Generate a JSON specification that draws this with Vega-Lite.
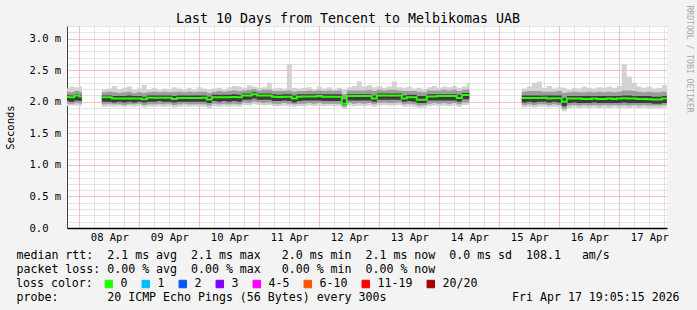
{
"$schema": "https://vega.github.io/schema/vega-lite/v6.json",
"width": 600, "height": 202,
"autosize": {"type": "none"},
"padding": {"left": 67, "top": 26, "right": 30, "bottom": 82},
"background": "#f3f3f3",
"title": {"text": "Last 10 Days from Tencent to Melbikomas UAB", "font": "DejaVu Sans Mono", "fontSize": 13.3, "fontWeight": "normal", "color": "black", "anchor": "middle", "frame": "group", "dx": -19, "offset": -31, "baseline": "alphabetic"},
"config": {"view": {"fill": "white", "stroke": null}, "font": "DejaVu Sans Mono"},
"datasets": {"d": [
{"t":"2026-04-07T18:00Z","s":1,"m":2.08,"a":1.93,"b":1.97,"c":2.01,"d":2.11,"e":2.16,"f":2.21},
{"t":"2026-04-07T20:00Z","s":1,"m":2.07,"a":1.94,"b":1.97,"c":2.0,"d":2.1,"e":2.15,"f":2.24},
{"t":"2026-04-07T22:00Z","s":1,"m":2.1,"a":1.94,"b":1.98,"c":2.02,"d":2.12,"e":2.17,"f":2.23},
{"t":"2026-04-08T00:00Z","s":1,"m":2.085,"a":1.93,"b":1.97,"c":2.01,"d":2.11,"e":2.16,"f":2.25},
{"t":"2026-04-08T01:00Z","s":1,"m":2.085,"a":1.93,"b":1.97,"c":2.01,"d":2.11,"e":2.16,"f":2.25},
{"t":"2026-04-08T09:00Z","s":2,"m":2.07,"a":1.92,"b":1.96,"c":2.0,"d":2.1,"e":2.15,"f":2.2},
{"t":"2026-04-08T11:00Z","s":2,"m":2.07,"a":1.93,"b":1.97,"c":2.0,"d":2.1,"e":2.16,"f":2.21},
{"t":"2026-04-08T13:00Z","s":2,"m":2.05,"a":1.92,"b":1.96,"c":1.99,"d":2.09,"e":2.15,"f":2.25},
{"t":"2026-04-08T15:00Z","s":2,"m":2.05,"a":1.93,"b":1.96,"c":2.0,"d":2.09,"e":2.14,"f":2.2},
{"t":"2026-04-08T17:00Z","s":2,"m":2.05,"a":1.92,"b":1.95,"c":1.99,"d":2.09,"e":2.15,"f":2.22},
{"t":"2026-04-08T19:00Z","s":2,"m":2.05,"a":1.93,"b":1.96,"c":2.0,"d":2.1,"e":2.16,"f":2.24},
{"t":"2026-04-08T21:00Z","s":2,"m":2.05,"a":1.92,"b":1.96,"c":1.99,"d":2.09,"e":2.14,"f":2.19},
{"t":"2026-04-08T23:00Z","s":2,"m":2.05,"a":1.93,"b":1.97,"c":2.0,"d":2.09,"e":2.15,"f":2.21},
{"t":"2026-04-09T01:00Z","s":2,"m":2.04,"a":1.91,"b":1.95,"c":1.99,"d":2.08,"e":2.14,"f":2.27},
{"t":"2026-04-09T03:00Z","s":2,"m":2.065,"a":1.93,"b":1.96,"c":2.0,"d":2.1,"e":2.15,"f":2.2},
{"t":"2026-04-09T05:00Z","s":2,"m":2.065,"a":1.92,"b":1.96,"c":2.0,"d":2.1,"e":2.16,"f":2.22},
{"t":"2026-04-09T07:00Z","s":2,"m":2.065,"a":1.93,"b":1.97,"c":2.01,"d":2.1,"e":2.15,"f":2.19},
{"t":"2026-04-09T09:00Z","s":2,"m":2.065,"a":1.92,"b":1.96,"c":2.0,"d":2.1,"e":2.16,"f":2.21},
{"t":"2026-04-09T11:00Z","s":2,"m":2.065,"a":1.93,"b":1.97,"c":2.0,"d":2.1,"e":2.15,"f":2.2},
{"t":"2026-04-09T13:00Z","s":2,"m":2.045,"a":1.91,"b":1.95,"c":1.99,"d":2.09,"e":2.15,"f":2.23},
{"t":"2026-04-09T15:00Z","s":2,"m":2.06,"a":1.92,"b":1.96,"c":2.0,"d":2.1,"e":2.16,"f":2.21},
{"t":"2026-04-09T17:00Z","s":2,"m":2.06,"a":1.93,"b":1.97,"c":2.0,"d":2.1,"e":2.15,"f":2.2},
{"t":"2026-04-09T19:00Z","s":2,"m":2.06,"a":1.92,"b":1.96,"c":2.0,"d":2.1,"e":2.16,"f":2.22},
{"t":"2026-04-09T21:00Z","s":2,"m":2.06,"a":1.93,"b":1.96,"c":2.0,"d":2.1,"e":2.15,"f":2.19},
{"t":"2026-04-09T23:00Z","s":2,"m":2.06,"a":1.92,"b":1.96,"c":2.0,"d":2.1,"e":2.16,"f":2.23},
{"t":"2026-04-10T01:00Z","s":2,"m":2.065,"a":1.92,"b":1.96,"c":2.0,"d":2.1,"e":2.16,"f":2.21},
{"t":"2026-04-10T03:00Z","s":2,"m":2.035,"a":1.9,"b":1.94,"c":1.98,"d":2.08,"e":2.14,"f":2.2},
{"t":"2026-04-10T05:00Z","s":2,"m":2.07,"a":1.93,"b":1.97,"c":2.01,"d":2.11,"e":2.16,"f":2.21},
{"t":"2026-04-10T07:00Z","s":2,"m":2.07,"a":1.92,"b":1.96,"c":2.0,"d":2.11,"e":2.17,"f":2.22},
{"t":"2026-04-10T09:00Z","s":2,"m":2.07,"a":1.93,"b":1.97,"c":2.01,"d":2.11,"e":2.16,"f":2.2},
{"t":"2026-04-10T11:00Z","s":2,"m":2.07,"a":1.92,"b":1.96,"c":2.0,"d":2.11,"e":2.17,"f":2.23},
{"t":"2026-04-10T13:00Z","s":2,"m":2.075,"a":1.93,"b":1.97,"c":2.01,"d":2.12,"e":2.18,"f":2.25},
{"t":"2026-04-10T15:00Z","s":2,"m":2.07,"a":1.92,"b":1.96,"c":2.0,"d":2.11,"e":2.17,"f":2.24},
{"t":"2026-04-10T17:00Z","s":2,"m":2.1,"a":1.95,"b":1.99,"c":2.03,"d":2.13,"e":2.18,"f":2.22},
{"t":"2026-04-10T19:00Z","s":2,"m":2.1,"a":1.94,"b":1.98,"c":2.03,"d":2.13,"e":2.19,"f":2.26},
{"t":"2026-04-10T21:00Z","s":2,"m":2.12,"a":1.96,"b":2.0,"c":2.05,"d":2.15,"e":2.2,"f":2.24},
{"t":"2026-04-10T23:00Z","s":2,"m":2.1,"a":1.95,"b":1.99,"c":2.03,"d":2.13,"e":2.18,"f":2.22},
{"t":"2026-04-11T01:00Z","s":2,"m":2.1,"a":1.94,"b":1.98,"c":2.03,"d":2.13,"e":2.19,"f":2.23},
{"t":"2026-04-11T03:00Z","s":2,"m":2.1,"a":1.95,"b":1.99,"c":2.03,"d":2.13,"e":2.19,"f":2.3},
{"t":"2026-04-11T05:00Z","s":2,"m":2.08,"a":1.93,"b":1.97,"c":2.01,"d":2.12,"e":2.17,"f":2.21},
{"t":"2026-04-11T07:00Z","s":2,"m":2.075,"a":1.93,"b":1.97,"c":2.01,"d":2.11,"e":2.17,"f":2.22},
{"t":"2026-04-11T09:00Z","s":2,"m":2.08,"a":1.94,"b":1.98,"c":2.02,"d":2.12,"e":2.17,"f":2.21},
{"t":"2026-04-11T11:00Z","s":2,"m":2.08,"a":1.93,"b":1.97,"c":2.01,"d":2.12,"e":2.18,"f":2.6},
{"t":"2026-04-11T13:00Z","s":2,"m":2.05,"a":1.92,"b":1.96,"c":1.99,"d":2.1,"e":2.16,"f":2.22},
{"t":"2026-04-11T15:00Z","s":2,"m":2.08,"a":1.93,"b":1.97,"c":2.01,"d":2.12,"e":2.17,"f":2.21},
{"t":"2026-04-11T17:00Z","s":2,"m":2.085,"a":1.93,"b":1.97,"c":2.02,"d":2.12,"e":2.17,"f":2.22},
{"t":"2026-04-11T19:00Z","s":2,"m":2.085,"a":1.94,"b":1.98,"c":2.02,"d":2.12,"e":2.18,"f":2.23},
{"t":"2026-04-11T21:00Z","s":2,"m":2.085,"a":1.93,"b":1.97,"c":2.02,"d":2.12,"e":2.17,"f":2.2},
{"t":"2026-04-11T23:00Z","s":2,"m":2.09,"a":1.94,"b":1.98,"c":2.02,"d":2.12,"e":2.18,"f":2.24},
{"t":"2026-04-12T01:00Z","s":2,"m":2.08,"a":1.93,"b":1.97,"c":2.01,"d":2.12,"e":2.17,"f":2.21},
{"t":"2026-04-12T03:00Z","s":2,"m":2.08,"a":1.94,"b":1.97,"c":2.01,"d":2.12,"e":2.18,"f":2.23},
{"t":"2026-04-12T05:00Z","s":2,"m":2.08,"a":1.93,"b":1.97,"c":2.01,"d":2.12,"e":2.17,"f":2.2},
{"t":"2026-04-12T07:00Z","s":2,"m":2.08,"a":1.93,"b":1.97,"c":2.01,"d":2.12,"e":2.18,"f":2.22},
{"t":"2026-04-12T09:00Z","s":2,"m":1.97,"a":1.89,"b":1.92,"c":1.95,"d":2.04,"e":2.12,"f":2.2},
{"t":"2026-04-12T11:00Z","s":2,"m":2.09,"a":1.94,"b":1.98,"c":2.02,"d":2.12,"e":2.18,"f":2.23},
{"t":"2026-04-12T13:00Z","s":2,"m":2.09,"a":1.93,"b":1.97,"c":2.02,"d":2.12,"e":2.18,"f":2.25},
{"t":"2026-04-12T15:00Z","s":2,"m":2.09,"a":1.94,"b":1.98,"c":2.02,"d":2.12,"e":2.18,"f":2.32},
{"t":"2026-04-12T17:00Z","s":2,"m":2.09,"a":1.93,"b":1.97,"c":2.02,"d":2.12,"e":2.18,"f":2.24},
{"t":"2026-04-12T19:00Z","s":2,"m":2.09,"a":1.94,"b":1.98,"c":2.02,"d":2.12,"e":2.19,"f":2.26},
{"t":"2026-04-12T21:00Z","s":2,"m":2.05,"a":1.92,"b":1.96,"c":2.0,"d":2.1,"e":2.17,"f":2.23},
{"t":"2026-04-12T23:00Z","s":2,"m":2.1,"a":1.94,"b":1.98,"c":2.03,"d":2.13,"e":2.19,"f":2.25},
{"t":"2026-04-13T01:00Z","s":2,"m":2.1,"a":1.95,"b":1.99,"c":2.03,"d":2.13,"e":2.18,"f":2.22},
{"t":"2026-04-13T03:00Z","s":2,"m":2.1,"a":1.94,"b":1.98,"c":2.03,"d":2.13,"e":2.19,"f":2.24},
{"t":"2026-04-13T05:00Z","s":2,"m":2.1,"a":1.94,"b":1.98,"c":2.03,"d":2.13,"e":2.19,"f":2.32},
{"t":"2026-04-13T07:00Z","s":2,"m":2.1,"a":1.95,"b":1.99,"c":2.03,"d":2.13,"e":2.18,"f":2.23},
{"t":"2026-04-13T09:00Z","s":2,"m":2.05,"a":1.92,"b":1.96,"c":2.0,"d":2.1,"e":2.17,"f":2.22},
{"t":"2026-04-13T11:00Z","s":2,"m":2.07,"a":1.93,"b":1.97,"c":2.01,"d":2.11,"e":2.17,"f":2.24},
{"t":"2026-04-13T13:00Z","s":2,"m":2.07,"a":1.92,"b":1.96,"c":2.0,"d":2.11,"e":2.17,"f":2.21},
{"t":"2026-04-13T15:00Z","s":2,"m":2.03,"a":1.9,"b":1.94,"c":1.98,"d":2.09,"e":2.16,"f":2.22},
{"t":"2026-04-13T17:00Z","s":2,"m":2.03,"a":1.91,"b":1.95,"c":1.98,"d":2.09,"e":2.15,"f":2.2},
{"t":"2026-04-13T19:00Z","s":2,"m":2.085,"a":1.93,"b":1.97,"c":2.02,"d":2.12,"e":2.18,"f":2.23},
{"t":"2026-04-13T21:00Z","s":2,"m":2.085,"a":1.94,"b":1.98,"c":2.02,"d":2.12,"e":2.18,"f":2.25},
{"t":"2026-04-13T23:00Z","s":2,"m":2.09,"a":1.93,"b":1.97,"c":2.02,"d":2.12,"e":2.18,"f":2.22},
{"t":"2026-04-14T01:00Z","s":2,"m":2.09,"a":1.94,"b":1.98,"c":2.02,"d":2.12,"e":2.19,"f":2.24},
{"t":"2026-04-14T03:00Z","s":2,"m":2.09,"a":1.93,"b":1.97,"c":2.02,"d":2.12,"e":2.18,"f":2.23},
{"t":"2026-04-14T05:00Z","s":2,"m":2.09,"a":1.94,"b":1.98,"c":2.02,"d":2.12,"e":2.19,"f":2.25},
{"t":"2026-04-14T07:00Z","s":2,"m":2.06,"a":1.92,"b":1.96,"c":2.0,"d":2.11,"e":2.17,"f":2.22},
{"t":"2026-04-14T09:00Z","s":2,"m":2.105,"a":1.95,"b":1.99,"c":2.04,"d":2.14,"e":2.19,"f":2.24},
{"t":"2026-04-14T11:00Z","s":2,"m":2.105,"a":1.95,"b":1.99,"c":2.04,"d":2.14,"e":2.2,"f":2.3},
{"t":"2026-04-14T12:00Z","s":2,"m":2.105,"a":1.95,"b":1.99,"c":2.04,"d":2.14,"e":2.2,"f":2.3},
{"t":"2026-04-15T09:00Z","s":3,"m":2.06,"a":1.91,"b":1.95,"c":1.99,"d":2.1,"e":2.16,"f":2.21},
{"t":"2026-04-15T11:00Z","s":3,"m":2.06,"a":1.92,"b":1.96,"c":2.0,"d":2.1,"e":2.17,"f":2.24},
{"t":"2026-04-15T13:00Z","s":3,"m":2.06,"a":1.91,"b":1.95,"c":1.99,"d":2.1,"e":2.17,"f":2.3},
{"t":"2026-04-15T15:00Z","s":3,"m":2.06,"a":1.92,"b":1.96,"c":2.0,"d":2.1,"e":2.17,"f":2.32},
{"t":"2026-04-15T17:00Z","s":3,"m":2.065,"a":1.92,"b":1.96,"c":2.0,"d":2.1,"e":2.16,"f":2.22},
{"t":"2026-04-15T19:00Z","s":3,"m":2.05,"a":1.91,"b":1.95,"c":1.99,"d":2.1,"e":2.16,"f":2.25},
{"t":"2026-04-15T21:00Z","s":3,"m":2.055,"a":1.92,"b":1.96,"c":2.0,"d":2.1,"e":2.16,"f":2.21},
{"t":"2026-04-15T23:00Z","s":3,"m":2.055,"a":1.91,"b":1.95,"c":1.99,"d":2.1,"e":2.17,"f":2.23},
{"t":"2026-04-16T01:00Z","s":3,"m":2.0,"a":1.85,"b":1.89,"c":1.93,"d":2.06,"e":2.14,"f":2.22},
{"t":"2026-04-16T03:00Z","s":3,"m":2.05,"a":1.9,"b":1.94,"c":1.98,"d":2.09,"e":2.15,"f":2.2},
{"t":"2026-04-16T05:00Z","s":3,"m":2.05,"a":1.91,"b":1.95,"c":1.99,"d":2.09,"e":2.16,"f":2.22},
{"t":"2026-04-16T07:00Z","s":3,"m":2.05,"a":1.9,"b":1.94,"c":1.98,"d":2.09,"e":2.15,"f":2.21},
{"t":"2026-04-16T09:00Z","s":3,"m":2.045,"a":1.91,"b":1.95,"c":1.98,"d":2.09,"e":2.15,"f":2.24},
{"t":"2026-04-16T11:00Z","s":3,"m":2.045,"a":1.9,"b":1.94,"c":1.98,"d":2.09,"e":2.16,"f":2.22},
{"t":"2026-04-16T13:00Z","s":3,"m":2.05,"a":1.91,"b":1.95,"c":1.99,"d":2.09,"e":2.15,"f":2.21},
{"t":"2026-04-16T15:00Z","s":3,"m":2.045,"a":1.9,"b":1.94,"c":1.98,"d":2.09,"e":2.16,"f":2.23},
{"t":"2026-04-16T17:00Z","s":3,"m":2.045,"a":1.91,"b":1.95,"c":1.98,"d":2.09,"e":2.15,"f":2.22},
{"t":"2026-04-16T19:00Z","s":3,"m":2.05,"a":1.9,"b":1.94,"c":1.98,"d":2.09,"e":2.16,"f":2.24},
{"t":"2026-04-16T21:00Z","s":3,"m":2.045,"a":1.91,"b":1.95,"c":1.98,"d":2.09,"e":2.15,"f":2.22},
{"t":"2026-04-16T23:00Z","s":3,"m":2.05,"a":1.9,"b":1.94,"c":1.98,"d":2.09,"e":2.16,"f":2.25},
{"t":"2026-04-17T01:00Z","s":3,"m":2.055,"a":1.91,"b":1.95,"c":1.99,"d":2.1,"e":2.18,"f":2.6},
{"t":"2026-04-17T03:00Z","s":3,"m":2.05,"a":1.9,"b":1.94,"c":1.98,"d":2.1,"e":2.18,"f":2.4},
{"t":"2026-04-17T05:00Z","s":3,"m":2.05,"a":1.91,"b":1.95,"c":1.98,"d":2.09,"e":2.17,"f":2.3},
{"t":"2026-04-17T07:00Z","s":3,"m":2.045,"a":1.9,"b":1.94,"c":1.98,"d":2.09,"e":2.16,"f":2.24},
{"t":"2026-04-17T09:00Z","s":3,"m":2.045,"a":1.91,"b":1.95,"c":1.98,"d":2.09,"e":2.15,"f":2.22},
{"t":"2026-04-17T11:00Z","s":3,"m":2.04,"a":1.9,"b":1.94,"c":1.98,"d":2.09,"e":2.16,"f":2.24},
{"t":"2026-04-17T13:00Z","s":3,"m":2.035,"a":1.9,"b":1.94,"c":1.97,"d":2.08,"e":2.15,"f":2.21},
{"t":"2026-04-17T15:00Z","s":3,"m":2.035,"a":1.9,"b":1.94,"c":1.97,"d":2.08,"e":2.15,"f":2.22},
{"t":"2026-04-17T17:00Z","s":3,"m":2.05,"a":1.91,"b":1.95,"c":1.98,"d":2.09,"e":2.16,"f":2.26},
{"t":"2026-04-17T19:00Z","s":3,"m":2.05,"a":1.91,"b":1.95,"c":1.98,"d":2.09,"e":2.16,"f":2.26}
]},
"data": {"name": "d"},
"resolve": {"axis": {"x": "independent", "y": "independent"}},
"layer": [
 {"mark": {"type": "area", "interpolate": "step-after", "color": "#d2d2d2", "clip": true},
  "encoding": {
   "x": {"field": "t", "type": "temporal",
    "scale": {"type": "utc", "nice": false, "domain": [1775588700000, 1776452700000]},
    "axis": {"orient": "bottom",
      "values": [1775606400000, 1775692800000, 1775779200000, 1775865600000, 1775952000000, 1776038400000, 1776124800000, 1776211200000, 1776297600000, 1776384000000],
      "grid": true, "gridColor": "#f08080", "gridDash": [1, 1], "ticks": false, "domainColor": "black", "domainWidth": 1.5,
      "labelExpr": "utcFormat(datum.value, '%d %b')", "labelOffset": 30,
      "labelFont": "DejaVu Sans Mono", "labelFontSize": 10.5, "labelColor": "black", "labelPadding": 4,
      "labelFlush": false, "labelOverlap": false,
      "title": ["median\u00a0rtt:\u00a0\u00a02.1\u00a0ms\u00a0avg\u00a0\u00a02.1\u00a0ms\u00a0max\u00a0\u00a0\u00a02.0\u00a0ms\u00a0min\u00a0\u00a02.1\u00a0ms\u00a0now\u00a0\u00a00.0\u00a0ms\u00a0sd\u00a0\u00a0108.1\u00a0\u00a0\u00a0am/s", "packet\u00a0loss:\u00a00.00\u00a0%\u00a0avg\u00a0\u00a00.00\u00a0%\u00a0max\u00a0\u00a0\u00a00.00\u00a0%\u00a0min\u00a0\u00a00.00\u00a0%\u00a0now"],
      "titleFont": "DejaVu Sans Mono", "titleFontSize": 11.6, "titleFontWeight": "normal", "titleColor": "black",
      "titleAnchor": "start", "titleAlign": "left", "titleX": -51, "titleY": 30, "titleBaseline": "alphabetic", "titleLineHeight": 14}},
   "y": {"field": "a", "type": "quantitative", "scale": {"domain": [0, 3.2], "nice": false},
     "axis": {"orient": "left", "values": [0, 0.5, 1, 1.5, 2, 2.5, 3],
       "grid": true, "gridColor": "#f08080", "gridDash": [1, 1], "ticks": false, "domainColor": "#404040",
       "labelExpr": "datum.value === 0 ? '0.0' : format(datum.value, '.1f') + ' m'",
       "labelFont": "DejaVu Sans Mono", "labelFontSize": 10.5, "labelColor": "black", "labelAlign": "left", "labelPadding": 38,
       "labelOverlap": false, "labelFlush": false,
       "title": "Seconds", "titleFont": "DejaVu Sans Mono", "titleFontSize": 10.5, "titleFontWeight": "normal", "titleColor": "black",
       "titlePadding": 14}},
   "y2": {"field": "f"},
   "detail": {"field": "s"}}},
 {"mark": {"type": "area", "interpolate": "step-after", "color": "#9c9c9c", "clip": true},
  "encoding": {
   "x": {"field": "t", "type": "temporal", "scale": {"type": "utc", "nice": false, "domain": [1775588700000, 1776452700000]}, "axis": null},
   "y": {"field": "b", "type": "quantitative", "scale": {"domain": [0, 3.2], "nice": false}, "axis": null}, "y2": {"field": "e"}, "detail": {"field": "s"}}},
 {"mark": {"type": "area", "interpolate": "step-after", "color": "#3c3c3c", "clip": true},
  "encoding": {
   "x": {"field": "t", "type": "temporal", "scale": {"type": "utc", "nice": false, "domain": [1775588700000, 1776452700000]}, "axis": null},
   "y": {"field": "c", "type": "quantitative", "scale": {"domain": [0, 3.2], "nice": false}, "axis": null}, "y2": {"field": "d"}, "detail": {"field": "s"}}},
 {"mark": {"type": "line", "interpolate": "step-after", "strokeWidth": 2, "clip": true},
  "encoding": {
   "x": {"field": "t", "type": "temporal",
     "scale": {"type": "utc", "nice": false, "domain": [1775588700000, 1776452700000]},
     "axis": {"orient": "top", "labels": false, "ticks": false, "domain": false, "grid": true, "gridColor": "#c8c8c8", "gridDash": [1, 1],
       "values": [1775628000000, 1775649600000, 1775671200000, 1775714400000, 1775736000000, 1775757600000, 1775800800000, 1775822400000, 1775844000000, 1775887200000, 1775908800000, 1775930400000, 1775973600000, 1775995200000, 1776016800000, 1776060000000, 1776081600000, 1776103200000, 1776146400000, 1776168000000, 1776189600000, 1776232800000, 1776254400000, 1776276000000, 1776319200000, 1776340800000, 1776362400000, 1776405600000, 1776427200000, 1776448800000],
       "title": "probe:\u00a0\u00a0\u00a0\u00a0\u00a0\u00a0\u00a020\u00a0ICMP\u00a0Echo\u00a0Pings\u00a0(56\u00a0Bytes)\u00a0every\u00a0300s\u00a0\u00a0\u00a0\u00a0\u00a0\u00a0\u00a0\u00a0\u00a0\u00a0\u00a0\u00a0\u00a0\u00a0\u00a0\u00a0\u00a0\u00a0Fri\u00a0Apr\u00a017\u00a019:05:15\u00a02026",
       "titleFont": "DejaVu Sans Mono", "titleFontSize": 11.6, "titleFontWeight": "normal", "titleColor": "black",
       "titleAnchor": "start", "titleAlign": "left", "titleX": -51, "titleY": 274, "titleBaseline": "alphabetic"}},
   "y": {"field": "m", "type": "quantitative", "scale": {"domain": [0, 3.2], "nice": false},
     "axis": {"orient": "right", "labels": false, "ticks": false, "domain": false, "grid": true, "gridColor": "#c8c8c8", "gridDash": [1, 1],
       "values": [0.1, 0.2, 0.3, 0.4, 0.6, 0.7, 0.8, 0.9, 1.1, 1.2, 1.3, 1.4, 1.6, 1.7, 1.8, 1.9, 2.1, 2.2, 2.3, 2.4, 2.6, 2.7, 2.8, 2.9, 3.1, 3.2],
       "title": "RRDTOOL / TOBI OETIKER", "titleAngle": 90, "titleFont": "DejaVu Sans Mono", "titleFontSize": 8.1,
       "titleFontWeight": "normal", "titleColor": "#a8a8a8", "titleAlign": "left", "titleBaseline": "middle", "titleX": 21, "titleY": -21}},
   "detail": {"field": "s"},
   "color": {"datum": "0", "type": "nominal",
     "scale": {"domain": ["0", "1", "2", "3", "4-5", "6-10", "11-19", "20/20"], "range": ["#26ff00", "#00b8ff", "#0059ff", "#7e00ff", "#ff00ff", "#ff5500", "#ff0000", "#a10000"]},
     "legend": {"orient": "none", "legendX": -51, "legendY": 252, "direction": "horizontal",
       "title": "loss\u00a0color:", "titleOrient": "left", "titleFont": "DejaVu Sans Mono", "titleFontSize": 11.6, "titleFontWeight": "normal", "titleColor": "black", "titlePadding": 10,
       "labelFont": "DejaVu Sans Mono", "labelFontSize": 11.6, "labelColor": "black", "labelOffset": 6, "columnPadding": 12,
       "symbolType": "square", "symbolSize": 56, "symbolStrokeWidth": 1, "symbolStrokeColor": "black",
       "encode": {"symbols": {"update": {"fill": {"scale": "color", "field": "value"}, "stroke": {"value": "black"}, "strokeWidth": {"value": 1}, "opacity": {"value": 1}}}}}}
  }
 }
]
}
